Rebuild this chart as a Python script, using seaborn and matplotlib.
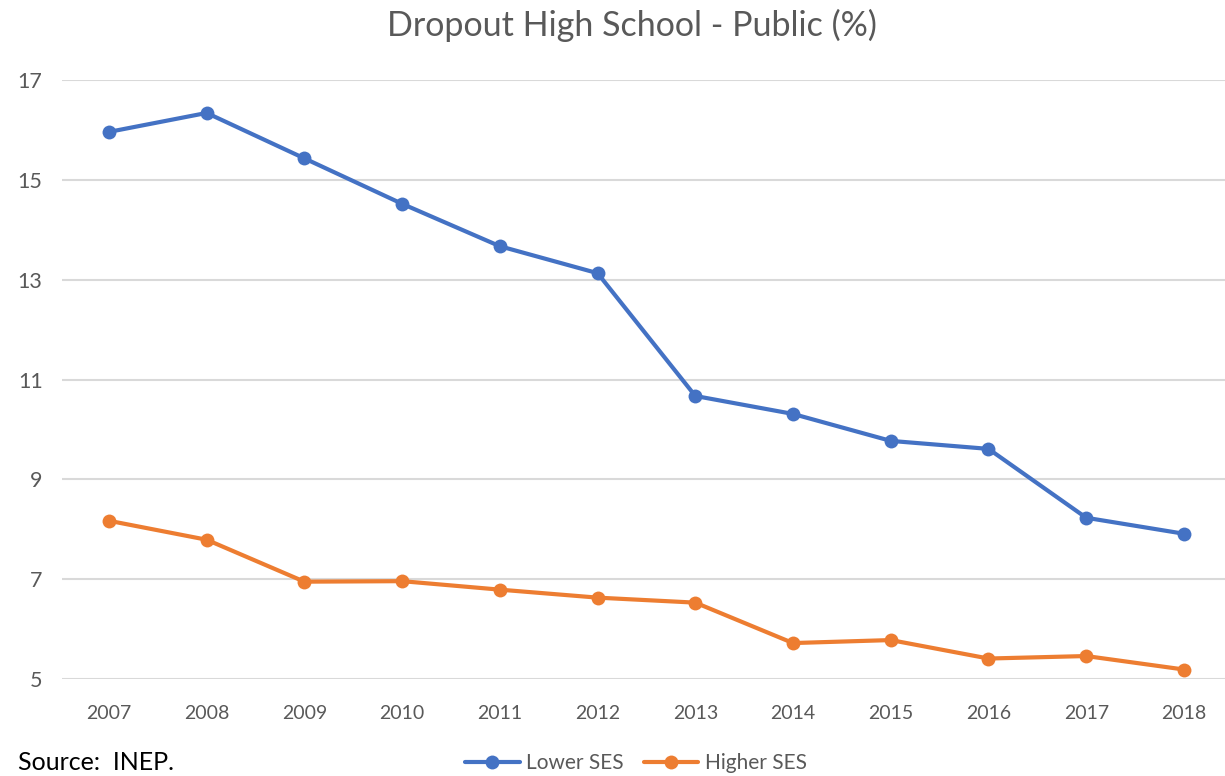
import matplotlib
matplotlib.use("Agg")
import matplotlib.pyplot as plt
import seaborn as sns
import pandas as pd
from matplotlib.lines import Line2D

years = [2007, 2008, 2009, 2010, 2011, 2012, 2013, 2014, 2015, 2016, 2017, 2018]
lower_ses = [15.96, 16.34, 15.43, 14.52, 13.67, 13.13, 10.67, 10.31, 9.77, 9.61, 8.23, 7.91]
higher_ses = [8.17, 7.79, 6.95, 6.96, 6.79, 6.63, 6.53, 5.72, 5.78, 5.41, 5.46, 5.19]
series_names = ["Lower SES", "Higher SES"]
y_ticks = [5, 7, 9, 11, 13, 15, 17]
title = "Dropout High School - Public (%)"
source = "Source:  INEP."

df = pd.DataFrame({
    "Year": years * 2,
    "Value": lower_ses + higher_ses,
    "Series": [series_names[0]] * len(years) + [series_names[1]] * len(years),
})

sns.set_theme(style="white")
plt.rcParams["font.family"] = ["Lato", "DejaVu Sans"]

fig = plt.figure(figsize=(12.25, 7.76), dpi=100)
W, H = 1225, 776
ax = fig.add_axes([62 / W, 1 - 679 / H, (1225 - 62) / W, (679 - 80) / H])

palette = {"Lower SES": "#4472C4", "Higher SES": "#ED7D31"}
sns.lineplot(data=df, x="Year", y="Value", hue="Series", palette=palette,
             marker="o", markersize=10, markeredgewidth=0, linewidth=3,
             ax=ax, legend=False)

ax.set_ylim(5, 17)
ax.set_xlim(2006.52, 2018.42)
ax.set_yticks(y_ticks)
ax.set_yticklabels([str(t) for t in y_ticks])
ax.set_xticks(years)
ax.set_xticklabels([str(y) for y in years])
ax.yaxis.grid(True, color="#D9D9D9", linewidth=1.5)
ax.set_axisbelow(True)
for s in ax.spines.values():
    s.set_visible(False)
ax.set_xlabel("")
ax.set_ylabel("")
ax.tick_params(axis="x", length=0, labelsize=14, colors="#595959", pad=19)
ax.tick_params(axis="y", length=0, labelsize=15.5, colors="#595959", pad=14)

fig.text(632 / W, 1 - 25 / H, title, ha="center", va="center",
         fontsize=24.5, color="#595959")
fig.text(18 / W, 1 - 763 / H, source, ha="left", va="center",
         fontsize=18, color="black")

handles = [Line2D([0], [0], color=palette[n], linewidth=3, marker="o",
                  markersize=10, markeredgewidth=0) for n in series_names]
fig.legend(handles, series_names, loc="center", bbox_to_anchor=(636 / W, 1 - 763 / H),
           ncol=2, frameon=False, fontsize=15, handlelength=2.6,
           columnspacing=1.0, handletextpad=0.3, labelcolor="#595959")

fig.savefig("out.png", dpi=100)
